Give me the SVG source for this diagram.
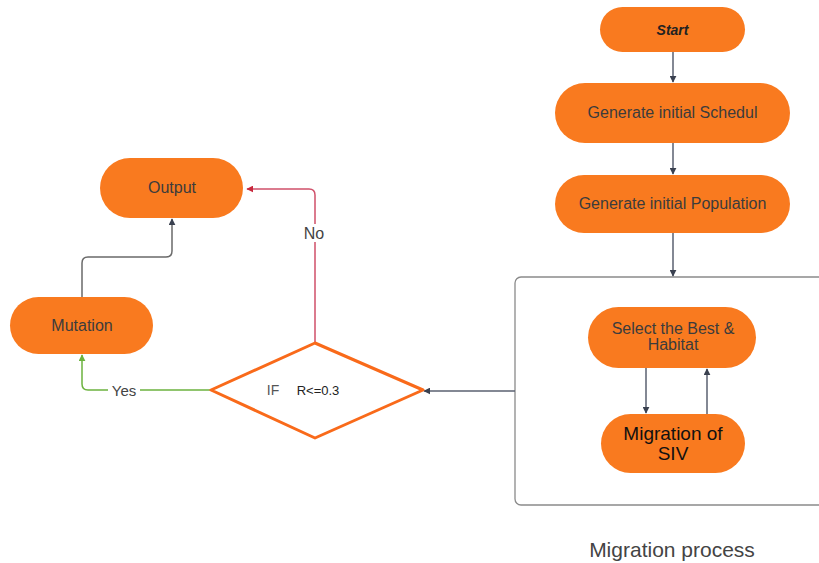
<svg xmlns="http://www.w3.org/2000/svg" width="819" height="563" viewBox="0 0 819 563">
<defs>
<style>
.node{fill:#F97A1F;}
.t{font-family:"Liberation Sans",Arial,sans-serif;font-size:16px;fill:#3c3c3c;text-anchor:middle;dominant-baseline:central;}
.c{fill:none;stroke-width:1.5;}
</style>
<marker id="ag" viewBox="0 0 10 10" refX="9" refY="5" markerWidth="7" markerHeight="7" orient="auto-start-reverse" markerUnits="userSpaceOnUse"><path d="M0,0 L10,5 L0,10 z" fill="#3a4150"/></marker>
<marker id="ar" viewBox="0 0 10 10" refX="9" refY="5" markerWidth="7" markerHeight="7" orient="auto" markerUnits="userSpaceOnUse"><path d="M0,0 L10,5 L0,10 z" fill="#c8283c"/></marker>
<marker id="agr" viewBox="0 0 10 10" refX="9" refY="5" markerWidth="7" markerHeight="7" orient="auto" markerUnits="userSpaceOnUse"><path d="M0,0 L10,5 L0,10 z" fill="#6cb33f"/></marker>
</defs>
<rect width="819" height="563" fill="#ffffff"/>
<rect x="515" y="277" width="320" height="228" rx="6" fill="none" stroke="#8a8a8a" stroke-width="1.3"/>
<g id="connectors">
<path class="c" d="M673,52 V82" stroke="#5a6070" marker-end="url(#ag)"/>
<path class="c" d="M673,143 V174" stroke="#5a6070" marker-end="url(#ag)"/>
<path class="c" d="M673,233 V276" stroke="#5a6070" marker-end="url(#ag)"/>
<path class="c" d="M646,368 V413" stroke="#5a6070" marker-end="url(#ag)"/>
<path class="c" d="M707,414 V369" stroke="#5a6070" marker-end="url(#ag)"/>
<path class="c" d="M515,391 H424" stroke="#5a6070" marker-end="url(#ag)"/>
<path class="c" d="M315,343 V195 Q315,189 309,189 H247" stroke="#d0506a" marker-end="url(#ar)"/>
<path class="c" d="M211,390 H88 Q82,390 82,384 V355" stroke="#6cb33f" stroke-width="2" marker-end="url(#agr)"/>
<path class="c" d="M82,297 V263 Q82,257 88,257 H166 Q172,257 172,251 V219" stroke="#6a6a6a" marker-end="url(#ag)"/>
<rect x="300" y="224" width="30" height="18" fill="#ffffff"/>
<text class="t" x="314" y="233" style="fill:#444;font-size:16px">No</text>
<rect x="108" y="382" width="32" height="16" fill="#ffffff"/>
<text class="t" x="124" y="390" style="fill:#444;font-size:15px">Yes</text>
</g>
<g id="start">
<rect class="node" x="600" y="7" width="145" height="45" rx="22.5"/>
<text class="t" x="672.5" y="29.5" style="font-style:italic;font-weight:bold;fill:#222;font-size:14px">Start</text>
</g>
<g id="schedul">
<rect class="node" x="555" y="83" width="235" height="60" rx="30"/>
<text class="t" x="672.5" y="112">Generate initial Schedul</text>
</g>
<g id="population">
<rect class="node" x="555" y="175" width="235" height="58" rx="29"/>
<text class="t" x="672.5" y="203">Generate initial Population</text>
</g>
<g id="select">
<rect class="node" x="588" y="307" width="168" height="61" rx="30.5"/>
<text class="t" x="673" y="328">Select the Best &amp;</text>
<text class="t" x="673" y="344">Habitat</text>
</g>
<g id="migration">
<rect class="node" x="601" y="414" width="144" height="59" rx="29.5"/>
<text class="t" x="673" y="433" style="font-size:19px;fill:#111">Migration of</text>
<text class="t" x="673" y="453" style="font-size:19px;fill:#111">SIV</text>
</g>
<g id="decision">
<path d="M315,343 L423,390 L315,438 L211,390 Z" fill="#ffffff" stroke="#F96A1A" stroke-width="3" stroke-linejoin="round"/>
<text class="t" x="273" y="390" style="fill:#555;font-size:14px">IF</text>
<text class="t" x="318" y="390" style="fill:#222;font-size:13px">R&lt;=0.3</text>
</g>
<g id="output">
<rect class="node" x="100" y="158" width="143" height="60" rx="30"/>
<text class="t" x="172" y="187">Output</text>
</g>
<g id="mutation">
<rect class="node" x="10" y="297" width="143" height="57" rx="28.5"/>
<text class="t" x="82" y="325">Mutation</text>
</g>
<text x="672" y="549" style="font-family:'Liberation Sans',Arial,sans-serif;font-size:21px;fill:#444;text-anchor:middle;dominant-baseline:central">Migration process</text>
</svg>
